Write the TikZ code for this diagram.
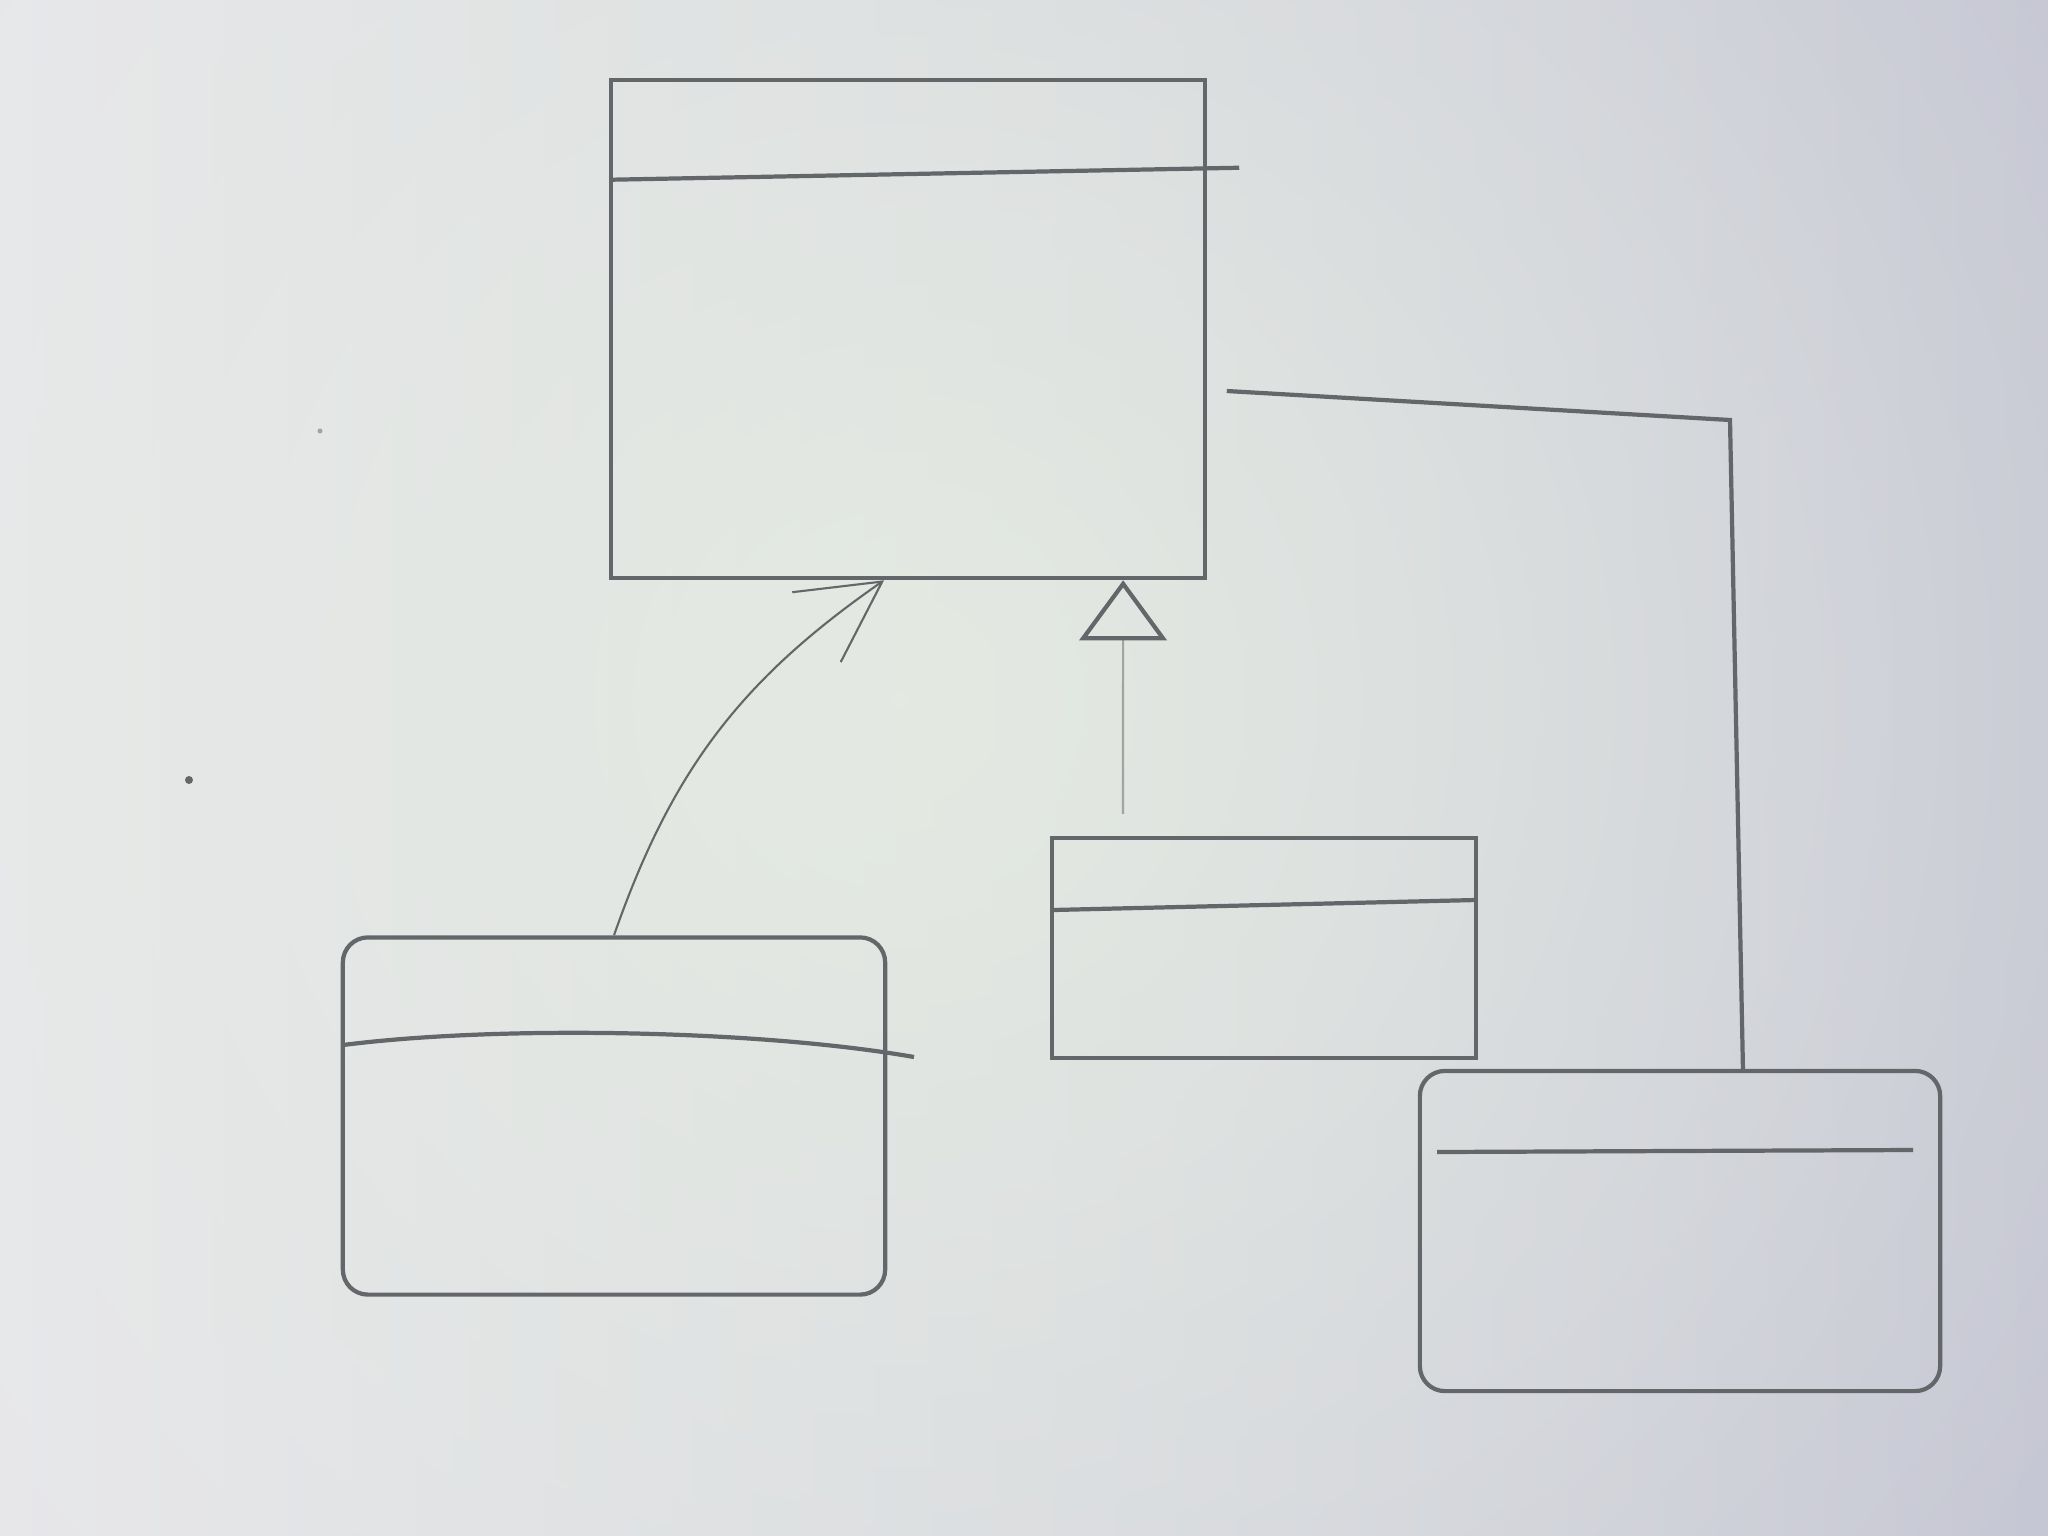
\documentclass[tikz,border=0pt]{standalone}
\usepackage{tikz}
\usetikzlibrary{arrows.meta,calc,fadings}

\definecolor{boardleft}{RGB}{232,231,236}
\definecolor{boardright}{RGB}{198,199,212}
\definecolor{boardmid}{RGB}{230,237,226}
\definecolor{pen}{RGB}{100,103,105}
\definecolor{faintpen}{RGB}{160,165,162}

\tikzfading[name=tintfade, inner color=transparent!15, outer color=transparent!100]

\begin{document}
\begin{tikzpicture}[
    x=0.01cm, y=-0.01cm,
    classbox/.style={
        draw=pen,
        line width=1.2pt,
        inner sep=0pt
    },
    roundbox/.style={
        classbox,
        rounded corners=0.25cm
    },
    divider/.style={draw=pen, line width=1.2pt},
    link/.style={draw=pen, line width=1.2pt},
    uses/.style={draw=pen, line width=0.6pt, -{Straight Barb[length=8mm,width=8.5mm]}},
    inherit/.style={draw=faintpen, line width=0.6pt, -{Triangle[open,length=6mm,width=8.7mm,line width=1.2pt,color=pen]}}
]

% whiteboard
\shade[left color=boardleft, right color=boardright] (0,0) rectangle (2048,1536);
\begin{scope}
    \clip (0,0) rectangle (2048,1536);
    \fill[boardmid, path fading=tintfade] (-500,-700) rectangle (2300,2100);
\end{scope}
\path[use as bounding box] (0,0) rectangle (2048,1536);

\node[classbox, minimum width=5.93cm, minimum height=4.98cm] (general) at (908,329) {};
\node[roundbox, minimum width=5.42cm, minimum height=3.57cm] (client) at (614,1116) {};
\node[classbox, minimum width=4.23cm, minimum height=2.20cm] (special) at (1264,948) {};
\node[roundbox, minimum width=5.20cm, minimum height=3.20cm] (partner) at (1680,1231) {};

% compartments
\draw[divider] (general.north west) ++(0,102) -- ++(630,-12);
\draw[divider] (343,1045) .. controls (500,1025) and (760,1030) .. (914,1057);
\draw[divider] (1053,910) -- (1476,900);
\draw[divider] (1437,1152) -- (1913,1150);

\coordinate (turn) at (1730,420);

\draw[uses] (client.north) to[bend left=18] ($(general.south west)!0.46!(general.south east)$);
\draw[inherit] ($(special.north west)!0.17!(special.north east)+(0,-22)$) -- ($(general.south west)!0.86!(general.south east)$);
\draw[link] ($(general.east)+(20,62)$) -- (turn) -- ($(partner.north west)!0.62!(partner.north east)$);

% marker specks
\fill[pen] (189,780) circle (4);
\fill[faintpen] (320,431) circle (2.5);

\end{tikzpicture}
\end{document}
